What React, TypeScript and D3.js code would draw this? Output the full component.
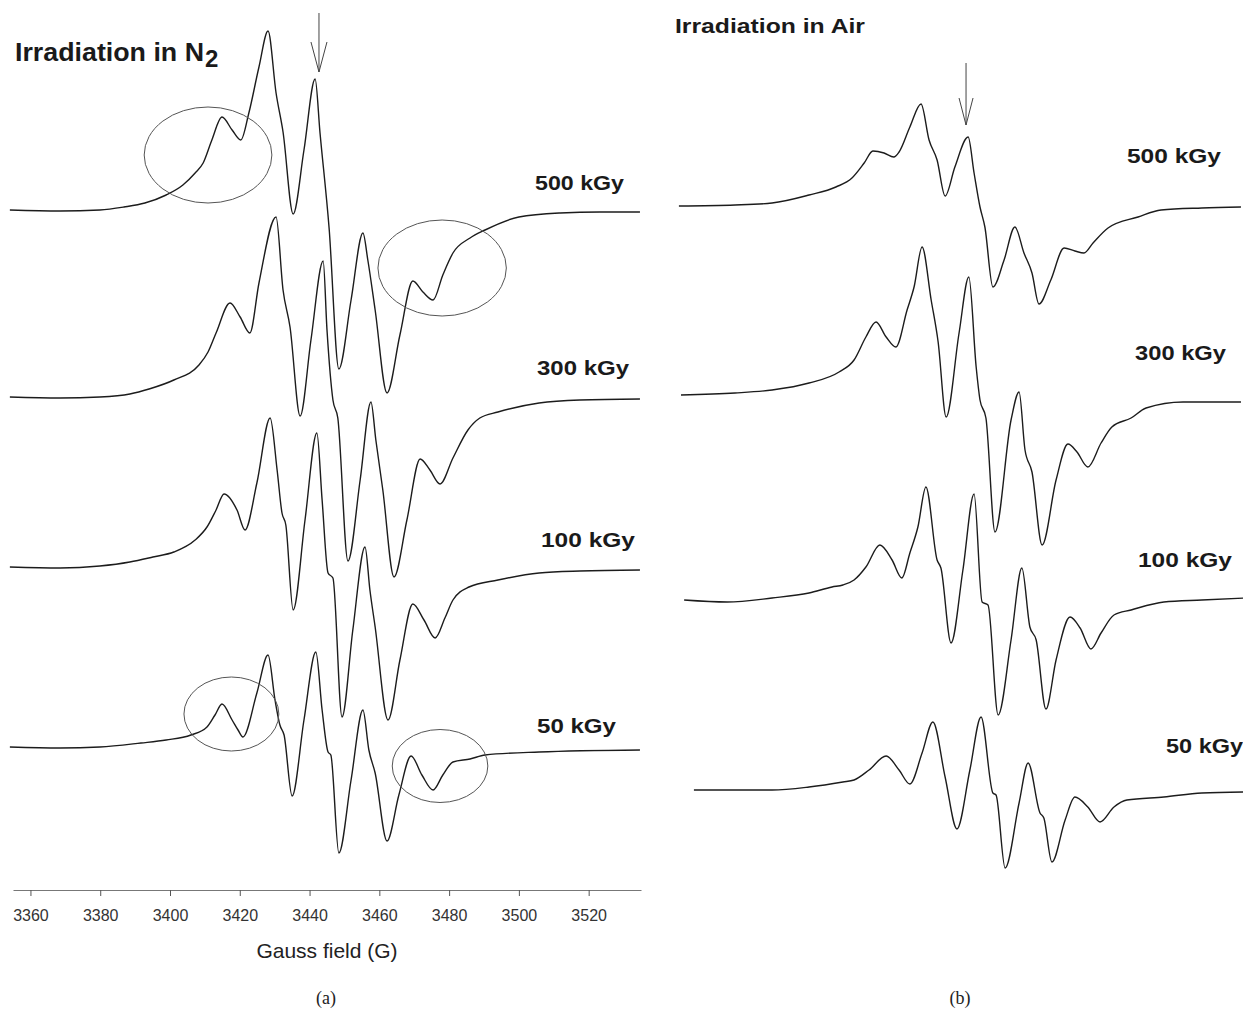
import React, { useEffect, useRef } from 'react'
import * as d3 from 'd3'

const W = 1243
const H = 1013

const doses = ['500 kGy', '300 kGy', '100 kGy', '50 kGy']
const fieldTicks = [3360, 3380, 3400, 3420, 3440, 3460, 3480, 3500, 3520]

// EPR first-derivative spectra, [field (G), signal (a.u.)]
const n2_500 = [
  [3354.1, 1], [3368.5, 0], [3379.9, 1], [3386.8, 4], [3392.8, 8], [3398.9, 16], [3403.7, 26],
  [3407.2, 38], [3409.5, 48], [3412.0, 71], [3414.9, 94], [3417.8, 81], [3420.3, 71], [3422.6, 98],
  [3425.5, 144], [3428.1, 180], [3430.4, 118], [3432.4, 79], [3435.3, -3], [3438.4, 61], [3441.6, 132],
  [3443.0, 78], [3445.6, -17], [3448.4, -158], [3451.9, -89], [3455.3, -22], [3456.7, -49], [3458.8, -99],
  [3462.2, -182], [3465.9, -124], [3469.6, -70], [3472.5, -81], [3475.4, -89], [3478.2, -64], [3481.1, -42],
  [3486.0, -27], [3490.3, -19], [3500.0, -6], [3511.8, -2], [3523.2, -1], [3534.7, -1],
]
const n2_300 = [
  [3354.1, 1], [3368.5, 0], [3379.9, 1], [3388.5, 4], [3394.0, 9], [3401.1, 18], [3408.3, 33],
  [3410.9, 46], [3413.2, 65], [3417.2, 95], [3420.1, 81], [3422.9, 65], [3425.5, 115], [3430.4, 181],
  [3432.4, 108], [3434.4, 71], [3437.3, -18], [3440.4, 58], [3443.9, 137], [3445.0, 68], [3446.7, -2],
  [3448.1, -20], [3451.0, -163], [3454.5, -82], [3457.6, -4], [3459.0, -42], [3461.0, -92], [3464.2, -179],
  [3467.9, -122], [3471.7, -61], [3474.5, -72], [3477.4, -86], [3481.1, -60], [3485.4, -32], [3488.8, -20],
  [3494.0, -14], [3505.8, -5], [3517.5, -2], [3534.7, -1],
]
const n2_100 = [
  [3354.1, 0], [3368.5, -1], [3379.9, 1], [3388.5, 5], [3395.1, 10], [3401.1, 15], [3407.2, 27],
  [3410.6, 40], [3413.2, 57], [3415.5, 73], [3419.2, 57], [3421.5, 37], [3424.9, 84], [3428.7, 149],
  [3430.7, 97], [3432.1, 54], [3433.2, 42], [3435.3, -43], [3438.7, 47], [3442.1, 134], [3443.6, 67],
  [3445.3, -6], [3446.7, -11], [3449.3, -150], [3452.4, -63], [3455.9, 20], [3457.3, -23], [3458.8, -60],
  [3462.5, -153], [3465.9, -93], [3469.6, -37], [3472.8, -53], [3476.0, -71], [3478.8, -51], [3481.1, -33],
  [3485.7, -20], [3494.0, -13], [3505.8, -6], [3517.5, -4], [3534.7, -3],
]
const n2_50 = [
  [3354.1, 1], [3368.5, 0], [3379.9, 1], [3391.7, 5], [3398.9, 8], [3406.0, 13], [3410.6, 21],
  [3412.9, 33], [3414.9, 44], [3417.8, 28], [3419.5, 18], [3420.9, 11], [3424.9, 55], [3428.1, 93],
  [3430.1, 48], [3431.5, 23], [3432.7, 13], [3435.0, -48], [3438.4, 28], [3441.8, 96], [3443.6, 38],
  [3445.3, -4], [3446.1, -7], [3448.4, -105], [3451.9, -32], [3455.3, 38], [3457.0, -2], [3458.8, -25],
  [3462.2, -93], [3465.6, -47], [3469.1, -8], [3472.2, -27], [3475.4, -42], [3478.2, -27], [3481.1, -14],
  [3486.0, -11], [3490.3, -7], [3505.8, -4], [3534.7, -2],
]

const air_500 = [
  [3358.7, 1], [3374.8, 2], [3385.4, 4], [3396.0, 12], [3403.7, 20], [3408.3, 29], [3411.8, 44],
  [3414.3, 56], [3417.5, 54], [3420.3, 50], [3421.8, 55], [3424.9, 80], [3428.1, 103], [3430.4, 67],
  [3432.7, 47], [3435.0, 11], [3437.8, 40], [3441.6, 70], [3443.3, 34], [3445.0, 0], [3446.4, -20],
  [3448.7, -80], [3451.9, -53], [3455.0, -20], [3457.6, -46], [3459.9, -66], [3461.9, -97], [3465.3, -73],
  [3469.1, -41], [3472.2, -44], [3474.8, -46], [3477.4, -36], [3481.7, -21], [3490.3, -10], [3496.9, -3],
  [3508.6, -1], [3519.8, 0],
]
const air_300 = [
  [3359.3, 0], [3374.8, 2], [3385.4, 5], [3396.0, 12], [3404.6, 23], [3408.9, 35], [3412.3, 58],
  [3415.2, 73], [3418.1, 58], [3420.9, 48], [3424.1, 85], [3426.1, 108], [3428.4, 148], [3431.0, 95],
  [3433.0, 53], [3435.3, -22], [3439.0, 62], [3441.8, 118], [3443.9, 28], [3445.0, -5], [3446.7, -23],
  [3449.3, -137], [3453.9, -25], [3456.2, 3], [3457.9, -55], [3459.9, -77], [3462.8, -150], [3466.8, -85],
  [3470.2, -49], [3472.8, -57], [3475.9, -72], [3479.7, -48], [3482.8, -32], [3488.3, -23], [3492.6, -13],
  [3503.2, -7], [3519.8, -7],
]
const air_100 = [
  [3360.2, 0], [3372.5, -2], [3385.4, 2], [3396.0, 7], [3402.6, 13], [3405.7, 15], [3408.9, 20],
  [3412.3, 33], [3416.3, 55], [3419.8, 40], [3422.6, 22], [3424.9, 47], [3427.2, 73], [3429.5, 113],
  [3432.7, 40], [3433.8, 32], [3436.7, -43], [3440.1, 30], [3443.3, 106], [3445.6, -2], [3447.3, -5],
  [3450.2, -115], [3453.9, -40], [3457.0, 32], [3459.3, -27], [3461.1, -40], [3463.9, -109], [3466.8, -60],
  [3470.8, -17], [3473.7, -28], [3476.8, -49], [3479.7, -33], [3483.4, -15], [3488.3, -10], [3497.7, -2],
  [3508.6, 0], [3521.0, 2],
]
const air_50 = [
  [3363.0, 0], [3374.8, 0], [3385.4, 0], [3396.0, 3], [3405.7, 8], [3408.9, 10], [3413.2, 20],
  [3418.1, 34], [3421.8, 20], [3424.9, 6], [3428.4, 37], [3431.5, 68], [3435.0, 13], [3438.4, -39],
  [3442.1, 20], [3445.3, 73], [3448.7, -3], [3449.6, -5], [3452.2, -78], [3456.2, -13], [3458.8, 27],
  [3462.2, -23], [3463.3, -28], [3465.6, -72], [3469.4, -30], [3472.2, -7], [3475.9, -17], [3479.4, -32],
  [3483.4, -17], [3487.1, -10], [3497.7, -7], [3508.6, -3], [3521.0, -2],
]

// circled regions in (a): [field, stacked signal, half width (G), half height]
const n2Marks = [
  [3410.9, 735, 18.3, 48],
  [3478.0, 622, 18.4, 48],
  [3417.6, 176, 13.6, 37],
  [3477.4, 124, 13.7, 36.5],
]
const n2ArrowField = 3442.7
const airArrowField = 3441.0

const panels = [
  {
    spectra: [n2_500, n2_300, n2_100, n2_50],
    offsets: [679, 492, 323, 142],
    range: [13, 641],
    marks: n2Marks,
    arrow: { field: n2ArrowField, top: 13, tip: 72, head: 30, half: 8 },
    labels: { x: [535, 537, 541, 537], w: [89, 92, 94, 79], y: [190, 375, 547, 733] },
    axis: true,
    caption: { text: '(a)', x: 326 },
  },
  {
    spectra: [air_500, air_300, air_100, air_50],
    offsets: [683, 495, 290, 100],
    range: [666, 1294],
    marks: [],
    arrow: { field: airArrowField, top: 63, tip: 125, head: 27, half: 7 },
    labels: { x: [1127, 1135, 1138, 1166], w: [94, 91, 94, 77], y: [163, 360, 567, 753] },
    axis: false,
    caption: { text: '(b)', x: 960 },
  },
]

const sans = '"Liberation Sans", Arial, Helvetica, sans-serif'

const App = () => {
  const ref = useRef(null)

  useEffect(() => {
    const svg = d3.select(ref.current)
    svg.selectAll('*').remove()

    const y = d3.scaleLinear().domain([0, 900]).range([890, -10])

    panels.forEach(p => {
      const x = d3.scaleLinear().domain([3355, 3535]).range(p.range)
      const g = svg.append('g')

      // spectra
      p.spectra.forEach((s, i) => {
        const line = d3
          .line()
          .curve(d3.curveMonotoneX)
          .x(d => x(d[0]))
          .y(d => y(p.offsets[i] + d[1]))
        g.append('path')
          .attr('d', line(s))
          .attr('fill', 'none')
          .attr('stroke', '#1c1c1c')
          .attr('stroke-width', 1.4)
          .attr('stroke-linejoin', 'round')
      })

      // circled regions
      g.selectAll('ellipse')
        .data(p.marks)
        .join('ellipse')
        .attr('cx', d => x(d[0]))
        .attr('cy', d => y(d[1]))
        .attr('rx', d => x(d[0] + d[2]) - x(d[0]))
        .attr('ry', d => y(d[1] - d[3]) - y(d[1]))
        .attr('fill', 'none')
        .attr('stroke', '#555')
        .attr('stroke-width', 1)

      // arrow
      const a = p.arrow
      const ax = x(a.field)
      g.append('path')
        .attr('d', `M${ax},${a.top}V${a.tip}M${ax - a.half},${a.tip - a.head}L${ax},${a.tip}L${ax + a.half},${a.tip - a.head}`)
        .attr('fill', 'none')
        .attr('stroke', '#444')
        .attr('stroke-width', 1)

      // dose labels
      doses.forEach((d, i) => {
        g.append('text')
          .attr('x', p.labels.x[i])
          .attr('y', p.labels.y[i])
          .attr('textLength', p.labels.w[i])
          .attr('lengthAdjust', 'spacingAndGlyphs')
          .attr('font-family', sans)
          .attr('font-weight', 'bold')
          .attr('font-size', 21)
          .attr('fill', '#1a1a1a')
          .text(d)
      })

      if (p.axis) {
        const axis = d3
          .axisBottom(x)
          .tickValues(fieldTicks)
          .tickFormat(d3.format('d'))
          .tickSize(6)
          .tickSizeOuter(0)
          .tickPadding(14)
        const ag = g.append('g').attr('transform', 'translate(0,890)').call(axis)
        ag.select('.domain').attr('stroke', '#777')
        ag.selectAll('.tick line').attr('stroke', '#555')
        ag.selectAll('.tick text')
          .attr('font-family', sans)
          .attr('font-size', 16)
          .attr('fill', '#333')

        g.append('text')
          .attr('x', 327)
          .attr('y', 958)
          .attr('text-anchor', 'middle')
          .attr('font-family', sans)
          .attr('font-size', 21)
          .attr('fill', '#222')
          .text('Gauss field (G)')
      }

      g.append('text')
        .attr('x', p.caption.x)
        .attr('y', 1004)
        .attr('text-anchor', 'middle')
        .attr('font-family', '"Liberation Serif", "Times New Roman", serif')
        .attr('font-size', 18)
        .attr('fill', '#222')
        .text(p.caption.text)
    })

    // panel titles
    svg.append('text')
      .attr('x', 15)
      .attr('y', 61)
      .attr('textLength', 189)
      .attr('lengthAdjust', 'spacingAndGlyphs')
      .attr('font-family', sans)
      .attr('font-weight', 'bold')
      .attr('font-size', 25)
      .attr('fill', '#1a1a1a')
      .text('Irradiation in N')
    svg.append('text')
      .attr('x', 205)
      .attr('y', 67)
      .attr('font-family', sans)
      .attr('font-weight', 'bold')
      .attr('font-size', 24)
      .attr('fill', '#1a1a1a')
      .text('2')

    svg.append('text')
      .attr('x', 675)
      .attr('y', 33)
      .attr('textLength', 190)
      .attr('lengthAdjust', 'spacingAndGlyphs')
      .attr('font-family', sans)
      .attr('font-weight', 'bold')
      .attr('font-size', 21)
      .attr('fill', '#1a1a1a')
      .text('Irradiation in Air')
  }, [])

  return (
    <>
      <style>{'body{margin:0;background:#fff}'}</style>
      <svg ref={ref} width={W} height={H} style={{ display: 'block', background: '#fff' }} />
    </>
  )
}

export default App
